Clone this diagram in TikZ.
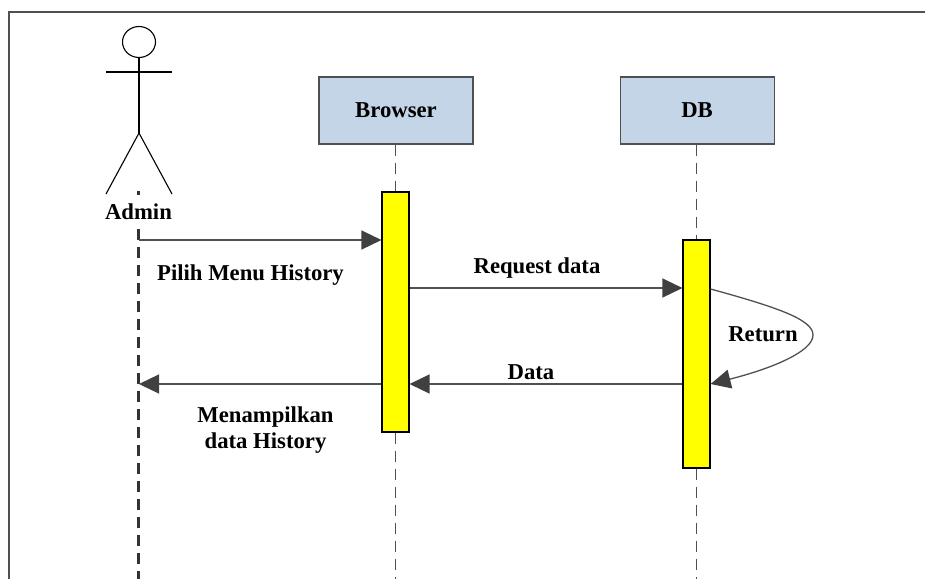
\documentclass[tikz,border=0pt]{standalone}
\usepackage{xcolor}
\usepackage{fontspec}
\setmainfont{Liberation Serif}
\usetikzlibrary{arrows.meta, positioning, shapes.geometric}
\definecolor{boxblue}{HTML}{C3D5E6}
\definecolor{linegray}{HTML}{505050}
\definecolor{barfill}{HTML}{FFFF00}

\begin{document}
\begin{tikzpicture}[x=1pt, y=-1pt,
            block/.style={draw=linegray, line width=1.1pt, rectangle, fill=boxblue, minimum height=67pt, minimum width=154pt, inner sep=0pt, font=\fontsize{22.7}{26}\selectfont\bfseries},
            bar/.style={draw=black, line width=1.1pt, rectangle, fill=barfill, minimum width=27pt, inner sep=0pt},
            label/.style={inner sep=0pt, align=center, font=\fontsize{22.7}{26}\selectfont\bfseries},
            life/.style={draw=linegray, dash pattern=on 11pt off 7pt, line width=1pt},
            adminlife/.style={draw=black!80, dash pattern=on 11pt off 7pt, line width=2.4pt},
            message/.style={draw=linegray, line width=1.3pt, -{Triangle[length=20pt, width=19pt, color=black!75]}},
            limb/.style={draw=black, line width=1.1pt}]

            \useasboundingbox (0,0) rectangle (925,579);

            \coordinate (frameleft) at (9,579);
            \coordinate (frametopleft) at (9,12);
            \coordinate (frametopright) at (925,12);
            \draw[linegray, line width=1.5pt] (frameleft) -- (frametopleft) -- (frametopright);

            \node[block] (browser) at (396,110.5) {Browser};
            \node[block, right=146pt of browser] (db) {DB};

            % lifelines
            \coordinate (adminend) at (138.5,579);
            \coordinate (browserend) at (395.5,579);
            \coordinate (dbend) at (696.5,579);
            \coordinate (admintop) at (138.5,229);
            \coordinate (admindot) at (138.5,191);
            \coordinate (admindotend) at (138.5,195);
            \draw[life] (browser.south -| browserend) -- (browserend);
            \draw[life] (db.south -| dbend) -- (dbend);
            \draw[adminlife] (admintop) -- (adminend);
            \draw[adminlife] (admindot) -- (admindotend);

            \node[bar, minimum height=240pt] (browserbar) at (395.5,312) {};
            \node[bar, minimum height=228pt] (dbbar) at (696.5,354) {};

            % actor
            \node[draw=black, line width=1.1pt, ellipse, minimum width=33pt, minimum height=31pt, inner sep=0pt] (head) at (139,42) {};
            \coordinate (hip) at (139,133);
            \coordinate (armleft) at (106,72);
            \coordinate (armright) at (172,72);
            \coordinate (legleft) at (106,194);
            \coordinate (legright) at (172,194);
            \draw[limb] (head.south) -- (hip);
            \draw[limb] (armleft) -- (armright);
            \draw[limb] (legleft) -- (hip) -- (legright);
            \node[label] (admin) at (138.5,212) {Admin};

            % messages
            \coordinate (pick) at (138.5,240);
            \coordinate (show) at (139,384);
            \draw[message] (pick) -- (browserbar.west |- pick);
            \draw[message] (browserbar.east |- 0,288) -- (dbbar.west |- 0,288);
            \draw[message] (dbbar.west |- 0,384) -- (browserbar.east |- 0,384);
            \draw[message] (browserbar.west |- show) -- (show);
            \draw[message] (dbbar.east |- 0,289) .. controls (780,308) and (813,320) .. (813,335)
                .. controls (813,352) and (770,369) .. (dbbar.east |- 0,384);

            \node[label] (pilih) at (250.5,275) {Pilih Menu History};
            \node[label] (request) at (537,268) {Request data};
            \node[label] (return) at (763,334.5) {Return};
            \node[label] (data) at (531,372) {Data};
            \node[label] (tampil) at (265.5,430.5) {Menampilkan\\data History};
        \end{tikzpicture}
\end{document}
